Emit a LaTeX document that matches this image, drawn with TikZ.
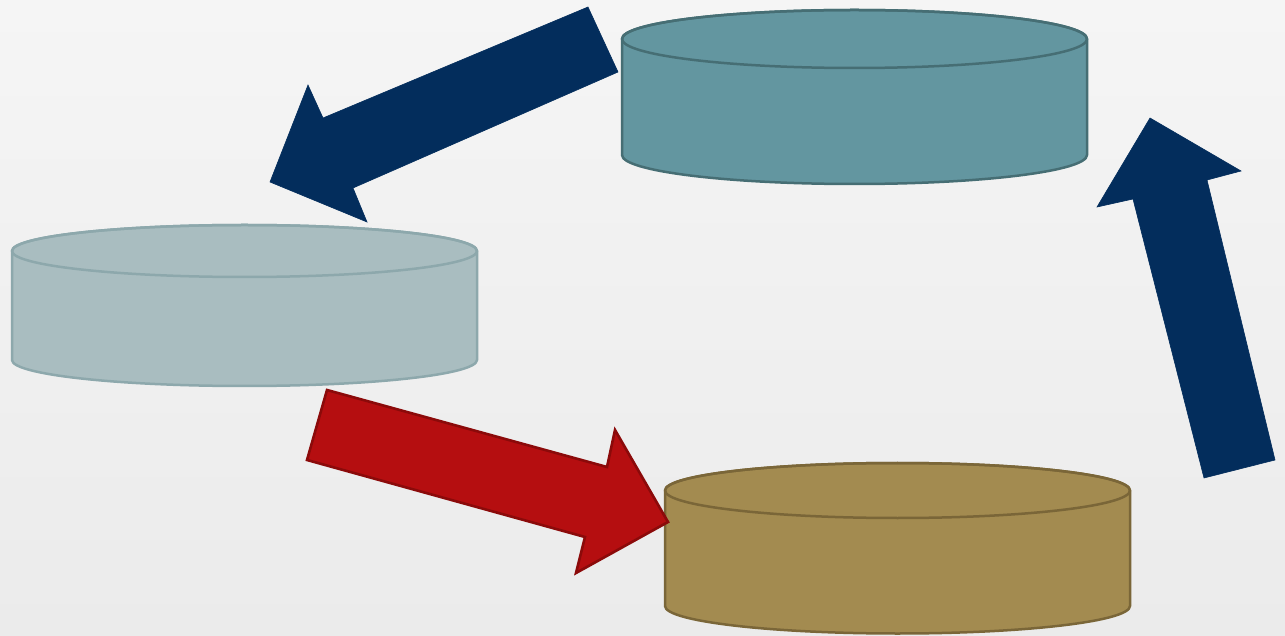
\documentclass[tikz,border=0pt]{standalone}
\usetikzlibrary{calc}
\definecolor{bgtop}{HTML}{F5F5F5}
\definecolor{bgbot}{HTML}{EBEBEB}
\definecolor{tealfill}{HTML}{6396A0}
\definecolor{tealline}{HTML}{466E74}
\definecolor{greyfill}{HTML}{A9BDC0}
\definecolor{greyline}{HTML}{8DA8AC}
\definecolor{goldfill}{HTML}{A38B50}
\definecolor{goldline}{HTML}{7A6638}
\definecolor{navy}{HTML}{032D5C}
\definecolor{redfill}{HTML}{B50E10}
\definecolor{redline}{HTML}{8B0A0A}
\tikzset{
  drumstyle/.style={line width=2.5pt, line join=round},
  navyarrow/.style={fill=navy, draw=navy, line width=0.6pt, line join=miter},
  redarrow/.style={fill=redfill, draw=redline, line width=2.6pt, line join=miter},
}
% #1 cx, #2 top y, #3 bottom y, #4 rx, #5 ry, #6 fill, #7 line
\newcommand{\drumshape}[7]{%
  \filldraw[drumstyle, fill=#6, draw=#7]
    ({#1-#4},#2) -- ({#1-#4},#3)
    arc[start angle=180, end angle=360, x radius=#4, y radius=#5]
    -- ({#1+#4},#2)
    arc[start angle=0, end angle=180, x radius=#4, y radius=#5] -- cycle;
  \draw[drumstyle, draw=#7] (#1,#2) ellipse [x radius=#4, y radius=#5];
}
\begin{document}
\begin{tikzpicture}[x=1pt,y=1pt]
\shade[top color=bgtop, bottom color=bgbot] (0,0) rectangle (1285,635);
\useasboundingbox (0,0) rectangle (1285,635);

% drums
\drumshape{854.5}{596}{480}{232.5}{29}{tealfill}{tealline}
\drumshape{244.5}{384}{275}{232.5}{26}{greyfill}{greyline}
\drumshape{897.5}{144.5}{29}{232.5}{27.5}{goldfill}{goldline}

% arrow from teal drum to grey drum
\coordinate (a1) at (588,628);
\coordinate (a2) at (618,563);
\coordinate (a3) at (353,447);
\coordinate (a4) at (367,413);
\coordinate (atip) at (270,453);
\coordinate (a6) at (308,550);
\coordinate (a7) at (323,517);
\filldraw[navyarrow] (a1) -- (a2) -- (a3) -- (a4) -- (atip) -- (a6) -- (a7) -- cycle;

% arrow from gold drum up to teal drum
\coordinate (b1) at (1204,157);
\coordinate (b2) at (1275,175);
\coordinate (b3) at (1207,455);
\coordinate (b4) at (1241,464);
\coordinate (btip) at (1150,517);
\coordinate (b6) at (1097,428);
\coordinate (b7) at (1133,436);
\filldraw[navyarrow] (b1) -- (b2) -- (b3) -- (b4) -- (btip) -- (b6) -- (b7) -- cycle;

% red arrow from grey drum to gold drum
\coordinate (c1) at (327,245);
\coordinate (c2) at (607,168);
\coordinate (c3) at (615,205);
\coordinate (ctip) at (668,113);
\coordinate (c5) at (576,62);
\coordinate (c6) at (585,98);
\coordinate (c7) at (307,175);
\filldraw[redarrow] (c1) -- (c2) -- (c3) -- (ctip) -- (c5) -- (c6) -- (c7) -- cycle;
\end{tikzpicture}
\end{document}
